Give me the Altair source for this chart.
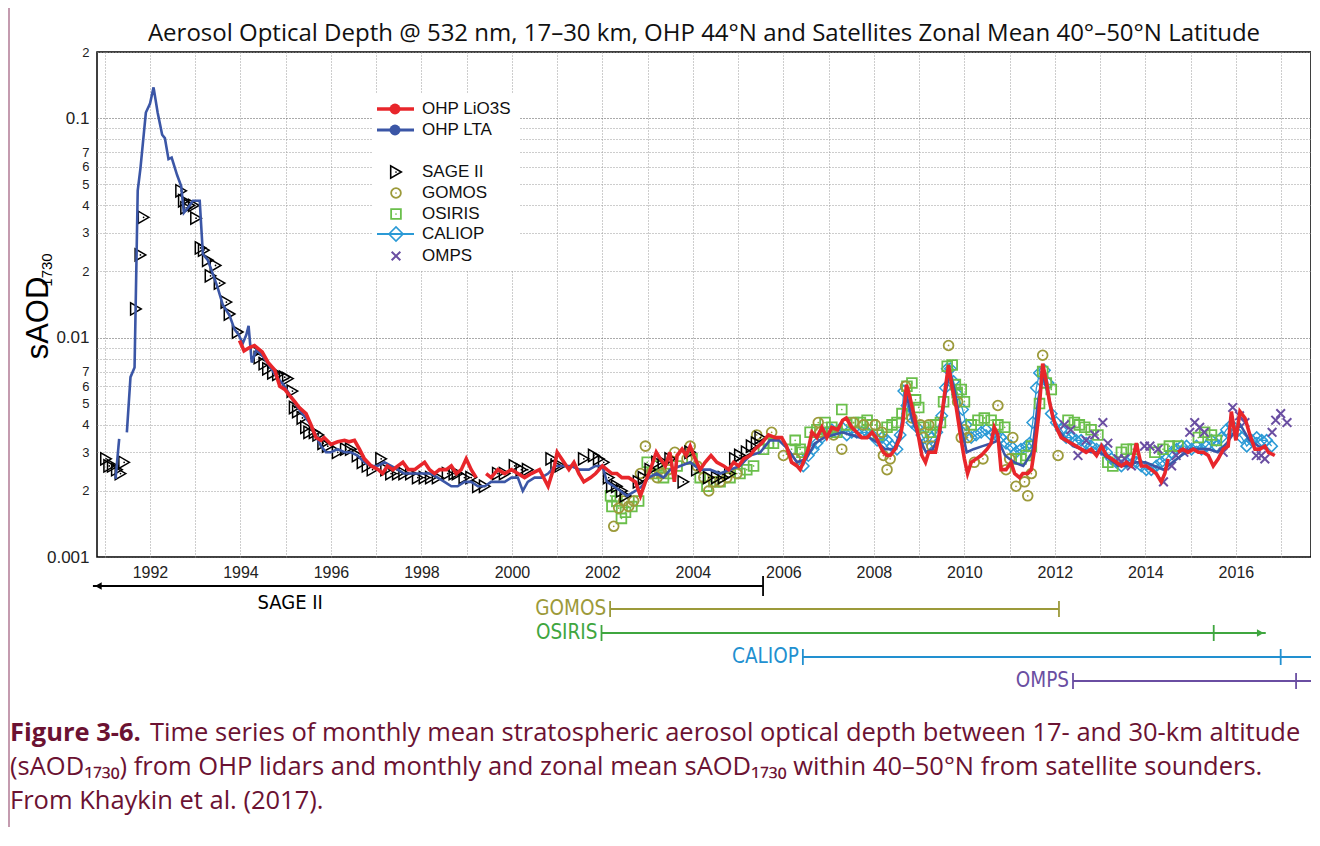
import json
import altair as alt
import pandas as pd

# ---------------- text ----------------
TITLE = "Aerosol Optical Depth @ 532 nm, 17–30 km, OHP 44°N and Satellites Zonal Mean 40°–50°N Latitude"
CAPTION_BOLD = "Figure 3-6."
CAPTION_1 = "Time series of monthly mean stratospheric aerosol optical depth between 17- and 30-km altitude"
CAPTION_2 = "(sAOD₁₇₃₀) from OHP lidars and monthly and zonal mean sAOD₁₇₃₀ within 40–50°N from satellite sounders."
CAPTION_3 = "From Khaykin et al. (2017)."

# ---------------- axes ----------------
x_ticks = list(range(1991, 2018))
y_ticks = [0.001, 0.002, 0.003, 0.004, 0.005, 0.006, 0.007, 0.008, 0.009,
           0.01, 0.02, 0.03, 0.04, 0.05, 0.06, 0.07, 0.08, 0.09, 0.1, 0.2]
y_tick_labels = ["0.001", "2", "3", "4", "5", "6", "7", "", "",
                 "0.01", "2", "3", "4", "5", "6", "7", "", "", "0.1", "2"]

# ---------------- OHP LTA (blue line) ----------------
lta_a_year = [1991.24, 1991.32]
lta_a_val = [0.00227, 0.00345]
lta_b_year = [1991.49, 1991.57, 1991.66, 1991.73, 1991.79, 1991.91, 1992.0, 1992.08, 1992.17, 1992.27,
              1992.33, 1992.41, 1992.48, 1992.6, 1992.69, 1992.75, 1992.84, 1992.95, 1993.1, 1993.17,
              1993.28, 1993.39, 1993.5, 1993.61, 1993.76, 1993.87, 1993.96, 1994.05, 1994.13, 1994.18,
              1994.25, 1994.35, 1994.5, 1994.65, 1994.8, 1994.95, 1995.11, 1995.33, 1995.52, 1995.78,
              1995.89, 1996.0, 1996.15, 1996.3, 1996.44, 1996.59, 1996.74, 1996.89, 1997.03, 1997.18,
              1997.33, 1997.48, 1997.62, 1997.77, 1997.92, 1998.07, 1998.21, 1998.36, 1998.51, 1998.66,
              1998.8, 1998.95, 1999.1, 1999.25, 1999.4, 1999.54, 1999.69, 1999.84, 1999.99, 2000.13,
              2000.24, 2000.35, 2000.5, 2000.65, 2000.8, 2000.95, 2001.1, 2001.3, 2001.5, 2001.7,
              2001.85, 2002.0, 2002.1, 2002.25, 2002.4, 2002.54, 2002.73, 2002.87, 2003.02, 2003.2,
              2003.35, 2003.5, 2003.72, 2003.94, 2004.16, 2004.38, 2004.6, 2004.82, 2005.04, 2005.26,
              2005.49, 2005.7, 2005.9, 2006.1, 2006.3, 2006.5, 2006.7, 2006.9, 2007.1, 2007.3,
              2007.5, 2007.7, 2007.9, 2008.1, 2008.25, 2008.45, 2008.6, 2008.72, 2008.85, 2009.0,
              2009.15, 2009.3, 2009.45, 2009.58, 2009.67, 2009.78, 2009.9, 2010.05, 2010.2, 2010.4,
              2010.6, 2010.75, 2010.9, 2011.1, 2011.3, 2011.5, 2011.62, 2011.73, 2011.85, 2012.0,
              2012.2, 2012.4, 2012.6, 2012.8, 2013.0, 2013.2, 2013.4, 2013.6, 2013.8, 2014.0,
              2014.2, 2014.4, 2014.6, 2014.8, 2015.0, 2015.2, 2015.4, 2015.6, 2015.8, 2016.0,
              2016.1, 2016.3, 2016.5, 2016.7]
lta_b_val = [0.0037, 0.0066, 0.0073, 0.0467, 0.059, 0.106, 0.116, 0.138, 0.106, 0.084,
             0.081, 0.065, 0.066, 0.055, 0.049, 0.037, 0.039, 0.042, 0.042, 0.024,
             0.0225, 0.0195, 0.0168, 0.0141, 0.0126, 0.0109, 0.0103, 0.0094, 0.0103, 0.0113,
             0.0077, 0.0088, 0.0082, 0.0074, 0.0066, 0.0061, 0.0054, 0.0046, 0.0041, 0.0032,
             0.0030, 0.0030, 0.0031, 0.0030, 0.0030, 0.0029, 0.0027, 0.0026, 0.0026, 0.0027,
             0.0026, 0.0025, 0.0024, 0.0024, 0.0024, 0.0024, 0.0024, 0.0023, 0.0022, 0.0021,
             0.0021, 0.0022, 0.0022, 0.0021, 0.0021, 0.0022, 0.0022, 0.0022, 0.0023, 0.0023,
             0.0020, 0.0022, 0.0023, 0.0023, 0.0024, 0.0026, 0.0026, 0.0026, 0.0025, 0.0025,
             0.0026, 0.0026, 0.0022, 0.0021, 0.0020, 0.0019, 0.0020, 0.0021, 0.0023, 0.0024,
             0.0023, 0.0025, 0.0026, 0.0027, 0.0025, 0.0025, 0.0024, 0.0025, 0.0026, 0.0029,
             0.0030, 0.0034, 0.0034, 0.0031, 0.0027, 0.0028, 0.0033, 0.0035, 0.0036, 0.0037,
             0.0036, 0.0035, 0.0035, 0.0033, 0.0031, 0.0031, 0.0038, 0.0055, 0.0042, 0.0035,
             0.0030, 0.0031, 0.0036, 0.0055, 0.0070, 0.0058, 0.0042, 0.0030, 0.0031, 0.0032,
             0.0033, 0.0034, 0.0029, 0.0027, 0.0026, 0.0030, 0.0050, 0.0068, 0.0055, 0.0040,
             0.0035, 0.0032, 0.0031, 0.0030, 0.0030, 0.0028, 0.0026, 0.0026, 0.0027, 0.0027,
             0.0026, 0.0025, 0.0027, 0.0029, 0.0031, 0.0031, 0.0031, 0.0030, 0.0033, 0.0038,
             0.0040, 0.0034, 0.0032, 0.0031]

# ---------------- OHP LiO3S (red line) ----------------
lio_a_year = [1993.98, 1994.08, 1994.2, 1994.31, 1994.48, 1994.61, 1994.76, 1994.87, 1994.98, 1995.07,
              1995.2, 1995.3, 1995.45, 1995.56, 1995.67, 1995.78, 1995.85, 1996.0, 1996.15, 1996.3,
              1996.4, 1996.52, 1996.63, 1996.74, 1996.89, 1997.05, 1997.14, 1997.25, 1997.37, 1997.48,
              1997.59, 1997.71, 1997.85, 1997.96, 1998.07, 1998.18, 1998.29, 1998.4, 1998.55, 1998.66,
              1998.77, 1998.88, 1998.99, 1999.1, 1999.21]
lio_a_val = [0.0097, 0.0087, 0.0090, 0.0092, 0.0086, 0.0077, 0.0071, 0.0060, 0.0058, 0.0055,
             0.0051, 0.0048, 0.0045, 0.0040, 0.0035, 0.0034, 0.0035, 0.00326, 0.00335, 0.0034,
             0.00335, 0.0034, 0.0031, 0.0028, 0.0026, 0.0025, 0.0024, 0.0026, 0.0025, 0.0026,
             0.0027, 0.0025, 0.0025, 0.0026, 0.0027, 0.0025, 0.0024, 0.0025, 0.0025, 0.0026,
             0.0024, 0.0025, 0.0028, 0.0025, 0.0023]
lio_b_year = [1999.43, 1999.54, 1999.69, 1999.84, 1999.99, 2000.13, 2000.28, 2000.43, 2000.61, 2000.8,
              2000.94, 2001.0, 2001.15, 2001.26, 2001.37, 2001.48, 2001.59, 2001.74, 2001.85, 2002.0,
              2002.1, 2002.21, 2002.32, 2002.43, 2002.58, 2002.73, 2002.84, 2002.95, 2003.06, 2003.19,
              2003.28, 2003.39, 2003.49, 2003.59, 2003.65, 2003.76, 2003.85, 2003.94, 2004.05, 2004.16,
              2004.27, 2004.4, 2004.53, 2004.68, 2004.79, 2004.9, 2005.01, 2005.12, 2005.26, 2005.37,
              2005.52, 2005.67, 2005.82, 2005.96, 2006.07, 2006.18, 2006.3, 2006.37, 2006.44, 2006.55,
              2006.63, 2006.74, 2006.85, 2006.96, 2007.07, 2007.2, 2007.31, 2007.39, 2007.51, 2007.62,
              2007.73, 2007.85, 2007.96, 2008.05, 2008.14, 2008.21, 2008.29, 2008.36, 2008.47, 2008.58,
              2008.64, 2008.72, 2008.8, 2008.92, 2008.99, 2009.06, 2009.14, 2009.21, 2009.28, 2009.36,
              2009.43, 2009.5, 2009.58, 2009.65, 2009.73, 2009.82, 2009.93, 2010.0, 2010.07, 2010.15,
              2010.26, 2010.37, 2010.5, 2010.59, 2010.66, 2010.74, 2010.81, 2010.92, 2011.03, 2011.11,
              2011.22, 2011.29, 2011.4, 2011.48, 2011.56, 2011.64, 2011.73, 2011.81, 2011.88, 2011.96,
              2012.03, 2012.14, 2012.25, 2012.36, 2012.47, 2012.58, 2012.69, 2012.8, 2012.92, 2013.03,
              2013.14, 2013.25, 2013.36, 2013.47, 2013.58, 2013.69, 2013.8, 2013.91, 2014.02, 2014.13,
              2014.24, 2014.35, 2014.43, 2014.5]
lio_b_val = [0.0024, 0.0023, 0.0025, 0.0024, 0.0025, 0.0024, 0.0023, 0.0024, 0.0025, 0.0021,
             0.0026, 0.0030, 0.0027, 0.0025, 0.0027, 0.0024, 0.0022, 0.0023, 0.0024, 0.0026,
             0.0025, 0.0024, 0.0024, 0.0023, 0.0023, 0.0022, 0.0019, 0.0022, 0.0025, 0.0030,
             0.0028, 0.0026, 0.0030, 0.0022, 0.0029, 0.0031, 0.0029, 0.0032, 0.0028, 0.0025,
             0.0027, 0.0029, 0.0027, 0.0026, 0.0025, 0.0027, 0.0026, 0.0028, 0.0029, 0.0031,
             0.0033, 0.0036, 0.0035, 0.0035, 0.0032, 0.0027, 0.0026, 0.0025, 0.0027, 0.0031,
             0.0037, 0.0035, 0.0039, 0.0035, 0.0039, 0.0038, 0.0042, 0.0043, 0.0039, 0.0037,
             0.0035, 0.0035, 0.0037, 0.0035, 0.0032, 0.0030, 0.0029, 0.0029, 0.0031, 0.0035,
             0.0041, 0.0061, 0.0053, 0.0041, 0.0035, 0.0029, 0.0027, 0.0030, 0.0030, 0.0030,
             0.0035, 0.0044, 0.0059, 0.0075, 0.0059, 0.0048, 0.0034, 0.0028, 0.0024, 0.0027,
             0.0028, 0.0029, 0.0031, 0.0033, 0.0039, 0.0036, 0.0025, 0.0025, 0.0027, 0.0024,
             0.0023, 0.0024, 0.0024, 0.0025, 0.0032, 0.0044, 0.0076, 0.0063, 0.0051, 0.0043,
             0.0039, 0.0035, 0.0034, 0.0033, 0.0032, 0.0031, 0.0030, 0.0031, 0.0029, 0.0032,
             0.0029, 0.0028, 0.0027, 0.0026, 0.0027, 0.0026, 0.0033, 0.0026, 0.0026, 0.0025,
             0.0024, 0.0022, 0.0024, 0.0028]
lio_c_year = [2014.72, 2014.83, 2014.94, 2015.06, 2015.17, 2015.28, 2015.39, 2015.5, 2015.61, 2015.72,
              2015.83, 2015.9, 2016.0, 2016.09, 2016.2, 2016.31, 2016.42, 2016.53, 2016.64, 2016.72,
              2016.86]
lio_c_val = [0.0030, 0.0031, 0.0030, 0.0031, 0.0030, 0.0030, 0.0029, 0.0026, 0.0028, 0.0031,
             0.0032, 0.0046, 0.0034, 0.0046, 0.0043, 0.0036, 0.0031, 0.0031, 0.0032, 0.0030,
             0.0029]

# ---------------- SAGE II ----------------
sage_year = [1991.03, 1991.1, 1991.18, 1991.27, 1991.35, 1991.43, 1991.69, 1991.79, 1991.86,
             1992.69, 1992.75, 1992.8, 1992.87, 1992.97, 1993.02, 1993.12, 1993.19, 1993.28, 1993.34,
             1993.45, 1993.54, 1993.69, 1993.76, 1993.94, 1994.35, 1994.42, 1994.53, 1994.61, 1994.72,
             1994.83, 1994.98, 1995.05, 1995.15, 1995.2, 1995.27, 1995.37, 1995.45, 1995.52, 1995.64,
             1995.72, 1995.83, 1995.93, 1996.15, 1996.33, 1996.44, 1996.59, 1996.7, 1996.81, 1996.92,
             1997.11, 1997.22, 1997.33, 1997.48, 1997.62, 1997.77, 1997.92, 1998.07, 1998.21, 1998.36,
             1998.58, 1998.73, 1998.8, 1998.95, 1999.1, 1999.25, 1999.4, 1999.69, 1999.84, 2000.06,
             2000.21, 2000.35, 2000.87, 2000.98, 2001.07, 2001.59, 2001.81, 2001.92, 2002.03, 2002.14,
             2002.21, 2002.32, 2002.43, 2002.51, 2002.8, 2002.91, 2003.06, 2003.21, 2003.35, 2003.5,
             2003.79, 2003.94, 2004.09, 2004.35, 2004.53, 2004.68, 2004.82, 2004.93, 2005.04, 2005.19,
             2005.3, 2005.41, 2005.49]
sage_val = [0.0028, 0.0026, 0.0026, 0.0025, 0.0024, 0.0027, 0.0135, 0.0238, 0.0353,
            0.0466, 0.042, 0.039, 0.040, 0.040, 0.035, 0.0256, 0.025, 0.0225, 0.0191,
            0.0213, 0.0177, 0.0145, 0.0128, 0.0106, 0.0086, 0.0081, 0.0076, 0.0072, 0.0069,
            0.0068, 0.0066, 0.0065, 0.0057, 0.0048, 0.0046, 0.0043, 0.0039, 0.0037, 0.0037,
            0.0036, 0.0033, 0.0032, 0.0030, 0.0031, 0.0031, 0.0029, 0.0027, 0.0026, 0.0025,
            0.0028, 0.0025, 0.0024, 0.0024, 0.0024, 0.0024, 0.0023, 0.0023, 0.0023, 0.0023,
            0.0024, 0.0024, 0.0024, 0.0023, 0.0023, 0.0021, 0.0021, 0.0024, 0.0024, 0.0026,
            0.0025, 0.0025, 0.0028, 0.0026, 0.0026, 0.0028, 0.0029, 0.0028, 0.0027, 0.0023,
            0.0021, 0.0021, 0.0020, 0.0019, 0.0022, 0.0023, 0.0025, 0.0027, 0.0027, 0.0028,
            0.0022, 0.0030, 0.0025, 0.0023, 0.0023, 0.0023, 0.0024, 0.0028, 0.0029, 0.0030,
            0.0032, 0.0033, 0.0035]

# ---------------- GOMOS ----------------
gomos_year = [2002.25, 2002.36, 2002.47, 2002.58, 2002.69, 2002.84, 2002.95, 2003.06, 2003.21, 2003.32,
              2003.46, 2003.6, 2003.87, 2003.94, 2004.09, 2004.24, 2004.35, 2004.46, 2004.6, 2004.75,
              2004.97, 2005.41, 2005.74, 2006.0, 2006.26, 2006.77, 2006.81, 2007.11, 2007.29, 2007.55,
              2007.77, 2008.03, 2008.18, 2008.21, 2008.29, 2008.36, 2008.7, 2008.84, 2009.03, 2009.1,
              2009.21, 2009.28, 2009.65, 2009.85, 2009.93, 2010.0, 2010.07, 2010.22, 2010.41, 2010.74,
              2010.92, 2011.0, 2011.07, 2011.14, 2011.33, 2011.4, 2011.48, 2011.73, 2012.07]
gomos_val = [0.00138, 0.00167, 0.0018, 0.0017, 0.0018, 0.0024, 0.0032, 0.0024, 0.0023, 0.0024,
             0.0025, 0.0030, 0.0028, 0.0032, 0.0026, 0.0023, 0.0020, 0.0022, 0.0022, 0.0023,
             0.0024, 0.0036, 0.0037, 0.0029, 0.0028, 0.0041, 0.0037, 0.0036, 0.0031, 0.0041,
             0.0040, 0.0040, 0.0037, 0.0029, 0.0025, 0.0028, 0.0060, 0.0043, 0.0040, 0.0035,
             0.0040, 0.0032, 0.0092, 0.0051, 0.0035, 0.0038, 0.0035, 0.0027, 0.0028, 0.0049,
             0.0025, 0.0028, 0.0035, 0.0021, 0.0022, 0.0019, 0.0024, 0.0083, 0.0029]

# ---------------- OSIRIS ----------------
osiris_year = [2002.18, 2002.21, 2002.32, 2002.42, 2002.51, 2002.65, 2002.8, 2002.99, 2003.1, 2003.21,
               2003.35, 2003.5, 2003.65, 2003.98, 2004.16, 2004.31, 2004.46, 2004.6, 2004.82, 2005.04,
               2005.19, 2005.34, 2005.56, 2005.67, 2005.78, 2006.18, 2006.26, 2006.37, 2006.41, 2006.59,
               2006.74, 2006.92, 2007.07, 2007.18, 2007.29, 2007.4, 2007.55, 2007.7, 2007.85, 2007.96,
               2008.1, 2008.29, 2008.4, 2008.51, 2008.62, 2008.73, 2008.84, 2008.92, 2008.99, 2009.1,
               2009.25, 2009.36, 2009.47, 2009.54, 2009.62, 2009.73, 2009.8, 2009.84, 2009.93, 2010.0,
               2010.15, 2010.3, 2010.44, 2010.59, 2010.74, 2010.89, 2011.14, 2011.25, 2011.37, 2011.48,
               2011.66, 2011.73, 2011.81, 2011.92, 2012.29, 2012.43, 2012.54, 2012.66, 2012.8, 2012.95,
               2013.17, 2013.28, 2013.47, 2013.58, 2013.73, 2014.21, 2014.39, 2014.53, 2014.72, 2015.17,
               2015.31, 2015.46, 2015.57]
osiris_val = [0.0019, 0.0017, 0.0018, 0.0015, 0.0016, 0.0017, 0.0018, 0.0027, 0.0024, 0.0026,
              0.0023, 0.0024, 0.0026, 0.0028, 0.0023, 0.0021, 0.0022, 0.0022, 0.0023, 0.0024,
              0.0025, 0.0026, 0.0031, 0.0033, 0.0033, 0.0031, 0.0034, 0.0031, 0.0030, 0.0037,
              0.0038, 0.0041, 0.0039, 0.0037, 0.0047, 0.0040, 0.0041, 0.0041, 0.0042, 0.0040,
              0.0036, 0.0039, 0.0040, 0.0041, 0.0045, 0.0060, 0.0062, 0.0052, 0.0048, 0.0039,
              0.0037, 0.0040, 0.0041, 0.0051, 0.0074, 0.0075, 0.0061, 0.0056, 0.0058, 0.0051,
              0.0040, 0.0042, 0.0043, 0.0042, 0.0040, 0.0039, 0.0028, 0.0028, 0.0029, 0.0032,
              0.0050, 0.0070, 0.0062, 0.0058, 0.0042, 0.0041, 0.0040, 0.0039, 0.0038, 0.0036,
              0.0027, 0.0026, 0.0030, 0.0031, 0.0031, 0.0030, 0.0031, 0.0032, 0.0032, 0.0035,
              0.0037, 0.0036, 0.0034]

# ---------------- CALIOP ----------------
caliop_year = [2006.44, 2006.55, 2006.66, 2006.74, 2006.85, 2006.96, 2007.07, 2007.18, 2007.29, 2007.4,
               2007.51, 2007.62, 2007.73, 2007.85, 2007.96, 2008.07, 2008.18, 2008.29, 2008.4, 2008.51,
               2008.58, 2008.66, 2008.73, 2008.84, 2008.95, 2009.06, 2009.17, 2009.28, 2009.39, 2009.5,
               2009.58, 2009.62, 2009.69, 2009.76, 2009.85, 2009.96, 2010.04, 2010.15, 2010.26, 2010.37,
               2010.48, 2010.59, 2010.7, 2010.81, 2010.92, 2011.03, 2011.14, 2011.25, 2011.37, 2011.44,
               2011.51, 2011.59, 2011.66, 2011.77, 2011.85, 2011.92, 2012.03, 2012.14, 2012.25, 2012.36,
               2012.47, 2012.58, 2012.69, 2012.8, 2012.92, 2013.03, 2013.14, 2013.25, 2013.36, 2013.47,
               2013.58, 2013.69, 2013.8, 2013.91, 2014.02, 2014.13, 2014.24, 2014.35, 2014.46, 2014.58,
               2014.69, 2014.8, 2014.91, 2015.02, 2015.13, 2015.24, 2015.35, 2015.46, 2015.57, 2015.68,
               2015.79, 2015.9, 2016.01, 2016.13, 2016.24, 2016.35, 2016.46, 2016.57, 2016.68, 2016.79]
caliop_val = [0.0026, 0.0029, 0.0031, 0.0033, 0.0035, 0.0037, 0.0038, 0.0037, 0.0039, 0.0036,
              0.0037, 0.0037, 0.0037, 0.0037, 0.0036, 0.0034, 0.0035, 0.0034, 0.0032, 0.0031,
              0.0036, 0.0057, 0.0049, 0.0041, 0.0039, 0.0036, 0.0032, 0.0035, 0.0037, 0.0044,
              0.0059, 0.0072, 0.0072, 0.0063, 0.0055, 0.0047, 0.0040, 0.0035, 0.0036, 0.0037,
              0.0038, 0.0036, 0.0036, 0.0035, 0.0033, 0.0032, 0.0030, 0.0031, 0.0032, 0.0033,
              0.0041, 0.0059, 0.0069, 0.0071, 0.0062, 0.0045, 0.0041, 0.0038, 0.0035, 0.0035,
              0.0034, 0.0034, 0.0033, 0.0032, 0.0031, 0.0031, 0.0030, 0.0028, 0.0027, 0.0026,
              0.0027, 0.0028, 0.0027, 0.0026, 0.0025, 0.0025, 0.0026, 0.0027, 0.0028, 0.0030,
              0.0031, 0.0032, 0.0032, 0.0031, 0.0032, 0.0031, 0.0032, 0.0034, 0.0032, 0.0035,
              0.0038, 0.0040, 0.0037, 0.0035, 0.0032, 0.0034, 0.0035, 0.0034, 0.0034, 0.0032]

# ---------------- OMPS ----------------
omps_year = [2012.21, 2012.35, 2012.51, 2012.69, 2012.88, 2013.06, 2013.17, 2013.4, 2013.54, 2013.69,
             2013.98, 2014.1, 2014.28, 2014.4, 2014.58, 2014.68, 2014.85, 2014.98, 2015.09, 2015.2,
             2015.3, 2015.72, 2015.93, 2016.08, 2016.2, 2016.45, 2016.56, 2016.64, 2016.8, 2016.88,
             2016.99, 2017.13]
omps_val = [0.0040, 0.0038, 0.0029, 0.0034, 0.0036, 0.0041, 0.0033, 0.0028, 0.0028, 0.0026,
            0.0032, 0.0032, 0.0031, 0.0022, 0.0026, 0.0029, 0.0030, 0.0037, 0.0041, 0.0039,
            0.0037, 0.0030, 0.0048, 0.0044, 0.0041, 0.0029, 0.0029, 0.0028, 0.0037, 0.0042,
            0.0045, 0.0041]

# ---------------- mission periods ----------------
mission_names = ["SAGE II", "GOMOS", "OSIRIS", "CALIOP", "OMPS"]
mission_start = [1990.74, 2002.17, 2001.98, 2006.43, 2012.40]
mission_end = [2005.55, 2012.09, 2016.66, 2018.30, 2018.30]
mission_ticks = [[2005.55], [2002.17, 2012.09], [2001.98, 2015.51], [2006.43, 2016.99], [2012.40, 2017.33]]

# ---------------- styling ----------------
RED = "#e8262b"
BLUE = "#3b56a6"
OLIVE = "#9c9a3a"
GREEN = "#6abf4b"
LIGHTBLUE = "#2b9ad6"
PURPLE = "#6a4ea2"
MAROON = "#6b1232"
XSHAPE = "M-1,-1L1,1M1,-1L-1,1"
SANS = "Liberation Sans"
HUMANIST = "Open Sans"
NARROW = "'Liberation Sans Narrow', 'DejaVu Sans Condensed', 'Liberation Sans'"
CAP_SIZE = 25.5

W, H = 1214, 505

decade_test = "indexof([0.001, 0.01, 0.1], datum.value) >= 0"
xscale = alt.Scale(domain=[1990.83, 2017.66], nice=False, zero=False)
yscale = alt.Scale(type="log", domain=[0.001, 0.2], nice=False)
xaxis = alt.Axis(values=x_ticks, labelExpr="datum.value % 2 == 0 ? '' + datum.value : ''",
                 grid=True, gridDash=[1, 2], gridColor="#9a9a9a", gridWidth=1,
                 ticks=False, domain=False, labelFontSize=16, labelFont=SANS, labelColor="#222",
                 labelPadding=7, labelOverlap=False, labelFlush=False, title=None)
yaxis = alt.Axis(values=y_ticks,
                 labelExpr=f"{json.dumps(y_tick_labels)}[indexof({json.dumps(y_ticks)}, datum.value)]",
                 grid=True, gridDash=[1, 2],
                 gridColor={"condition": {"test": decade_test, "value": "#555555"}, "value": "#9a9a9a"},
                 gridWidth=1, ticks=False, domain=False,
                 labelFontSize={"condition": {"test": decade_test, "value": 17}, "value": 13},
                 labelFont=SANS, labelColor="#222", labelPadding=8, labelOverlap=False,
                 labelFlush=False, title=None)

X = alt.X("year:Q", scale=xscale, axis=xaxis)
Y = alt.Y("aod:Q", scale=yscale, axis=yaxis)


def frame(years, vals, seg=0):
    return pd.DataFrame({"year": years, "aod": vals, "seg": seg})


def points(df, shape, color, size, sw=1.5, filled=False, opacity=1):
    return alt.Chart(df).mark_point(shape=shape, color=color, size=size, strokeWidth=sw,
                                    filled=filled, opacity=opacity).encode(x=X, y=Y)


def dots(df, color):
    return alt.Chart(df).mark_point(shape="circle", size=3, filled=True, color=color,
                                    opacity=1).encode(x=X, y=Y)


one = pd.DataFrame({"k": [0]})


def txt(x, y, s, **kw):
    return alt.Chart(one).mark_text(**kw).encode(x=alt.value(x), y=alt.value(y), text=alt.value(s))


def hrule(x1, x2, y, color, sw):
    return alt.Chart(one).mark_rule(color=color, strokeWidth=sw).encode(
        x=alt.value(x1), x2=alt.value(x2), y=alt.value(y))


def sym(x, y, shape, color, size, sw=1.5, filled=False):
    return alt.Chart(one).mark_point(shape=shape, color=color, size=size, strokeWidth=sw,
                                     filled=filled, opacity=1).encode(x=alt.value(x), y=alt.value(y))


lta_df = pd.concat([frame(lta_a_year, lta_a_val, 0), frame(lta_b_year, lta_b_val, 1)])
lio_df = pd.concat([frame(lio_a_year, lio_a_val, 0), frame(lio_b_year, lio_b_val, 1),
                    frame(lio_c_year, lio_c_val, 2)])
sage_df = frame(sage_year, sage_val)
gomos_df = frame(gomos_year, gomos_val)
osiris_df = frame(osiris_year, osiris_val)
caliop_df = frame(caliop_year, caliop_val)
omps_df = frame(omps_year, omps_val)

layers = []
# CALIOP: thin line + open diamonds
layers.append(alt.Chart(caliop_df).mark_line(color=LIGHTBLUE, strokeWidth=1.3).encode(x=X, y=Y))
layers.append(points(caliop_df, "diamond", LIGHTBLUE, 130, 1.5))
# OSIRIS
layers.append(points(osiris_df, "square", GREEN, 95, 1.8))
layers.append(dots(osiris_df, GREEN))
# GOMOS
layers.append(points(gomos_df, "circle", OLIVE, 95, 1.8))
layers.append(dots(gomos_df, OLIVE))
# OMPS
layers.append(points(omps_df, XSHAPE, PURPLE, 75, 2))
# SAGE II
layers.append(points(sage_df, "triangle-right", "#000", 150, 1.5))
layers.append(dots(sage_df, "#000"))
# OHP LTA
layers.append(alt.Chart(lta_df).mark_line(color=BLUE, strokeWidth=2.6).encode(
    x=X, y=Y, detail="seg:N"))
# OHP LiO3S
layers.append(alt.Chart(lio_df).mark_line(color=RED, strokeWidth=3.6).encode(
    x=X, y=Y, detail="seg:N"))

# ---------------- legend (inside plot) ----------------
layers.append(alt.Chart(one).mark_rect(color="white").encode(
    x=alt.value(276), x2=alt.value(423), y=alt.value(41), y2=alt.value(218)))
leg_y = [57, 78, 120, 141, 162, 182, 204]
leg_labels = ["OHP LiO3S", "OHP LTA", "SAGE II", "GOMOS", "OSIRIS", "CALIOP", "OMPS"]
layers.append(hrule(280, 317, leg_y[0], RED, 3.6))
layers.append(sym(298, leg_y[0], "circle", RED, 120, 1, True))
layers.append(hrule(280, 317, leg_y[1], BLUE, 3.2))
layers.append(sym(298, leg_y[1], "circle", BLUE, 120, 1, True))
layers.append(sym(299, leg_y[2], "triangle-right", "#000", 150, 1.6))
layers.append(sym(299, leg_y[2], "circle", "#000", 3, 1, True))
layers.append(sym(299, leg_y[3], "circle", OLIVE, 95, 1.8))
layers.append(sym(299, leg_y[3], "circle", OLIVE, 3, 1, True))
layers.append(sym(299, leg_y[4], "square", GREEN, 95, 1.8))
layers.append(sym(299, leg_y[4], "circle", GREEN, 3, 1, True))
layers.append(hrule(280, 317, leg_y[5], LIGHTBLUE, 1.8))
layers.append(sym(299, leg_y[5], "diamond", LIGHTBLUE, 200, 1.6))
layers.append(sym(299, leg_y[6], XSHAPE, PURPLE, 75, 2))
for ly, lab in zip(leg_y, leg_labels):
    layers.append(txt(325, ly, lab, font=SANS, fontSize=17, color="#111", align="left",
                      baseline="middle"))

# ---------------- mission period bars (below plot) ----------------
m_colors = ["#000000", "#9c9a3a", "#3fa63f", "#2290d0", "#6a4ea2"]
m_y = [534, 557, 581, 605, 629]
for name, s, e, ticks, c, yy in zip(mission_names, mission_start, mission_end, mission_ticks,
                                      m_colors, m_y):
    mdf = pd.DataFrame({"start": [s], "end": [e]})
    layers.append(alt.Chart(mdf).mark_rule(color=c, strokeWidth=2).encode(
        x=alt.X("start:Q", scale=xscale, axis=xaxis), x2="end:Q", y=alt.value(yy)))
    tdf = pd.DataFrame({"tick": ticks})
    half = 10 if name == "SAGE II" else 8
    layers.append(alt.Chart(tdf).mark_rule(color=c, strokeWidth=1.8).encode(
        x=alt.X("tick:Q", scale=xscale, axis=xaxis), y=alt.value(yy - half), y2=alt.value(yy + half)))
    if name != "SAGE II":
        layers.append(alt.Chart(mdf).mark_text(font=NARROW, fontSize=20.5, color=c, align="right",
                                               baseline="middle", dx=-4).encode(
            x=alt.X("start:Q", scale=xscale, axis=xaxis), y=alt.value(yy), text=alt.value(name)))

# arrowheads
arrow_df_l = pd.DataFrame({"year": [mission_start[0] + 0.12]})
layers.append(alt.Chart(arrow_df_l).mark_point(shape="triangle-left", filled=True, color="#000",
                                               size=60, opacity=1).encode(
    x=alt.X("year:Q", scale=xscale, axis=xaxis), y=alt.value(m_y[0])))
arrow_df_r = pd.DataFrame({"year": [mission_end[2] - 0.12]})
layers.append(alt.Chart(arrow_df_r).mark_point(shape="triangle-right", filled=True, color="#3fa63f",
                                               size=60, opacity=1).encode(
    x=alt.X("year:Q", scale=xscale, axis=xaxis), y=alt.value(m_y[2])))
sage_lab = pd.DataFrame({"year": [1995.1]})
layers.append(alt.Chart(sage_lab).mark_text(font=NARROW, fontSize=20, color="#000",
                                            baseline="middle").encode(
    x=alt.X("year:Q", scale=xscale, axis=xaxis), y=alt.value(551), text=alt.value("SAGE II")))

# ---------------- titles ----------------
layers.append(txt(W / 2, -18, TITLE, font=HUMANIST, fontSize=24, color="#111", align="center",
                  baseline="middle"))
layers.append(txt(-58, 266, "sAOD", font=SANS, fontSize=31, color="#000", align="center",
                  baseline="middle", angle=270))
layers.append(txt(-50, 218, "1730", font=SANS, fontSize=15, color="#000", align="center",
                  baseline="middle", angle=270))

# ---------------- caption ----------------
layers.append(txt(-87, 681, CAPTION_BOLD, font=HUMANIST, fontSize=CAP_SIZE, fontWeight="bold",
                  color=MAROON, align="left", baseline="middle"))
layers.append(txt(53, 681, CAPTION_1, font=HUMANIST, fontSize=CAP_SIZE, color=MAROON, align="left",
                  baseline="middle"))
layers.append(txt(-87, 715, CAPTION_2, font=HUMANIST, fontSize=CAP_SIZE, color=MAROON, align="left",
                  baseline="middle"))
layers.append(txt(-87, 749, CAPTION_3, font=HUMANIST, fontSize=CAP_SIZE, color=MAROON, align="left",
                  baseline="middle"))
# page frame line on the left
layers.append(alt.Chart(one).mark_rule(color="#b07a94", strokeWidth=1.5).encode(
    x=alt.value(-88), y=alt.value(-44), y2=alt.value(780)))

chart = alt.layer(*layers).properties(
    width=W, height=H,
    autosize=alt.AutoSizeParams(type="none"),
    padding={"left": 89, "top": 44, "right": 0, "bottom": 270},
).configure_view(stroke="#000", strokeWidth=1.5)

chart.save("out.html", embed_options={"renderer": "svg", "actions": False})
